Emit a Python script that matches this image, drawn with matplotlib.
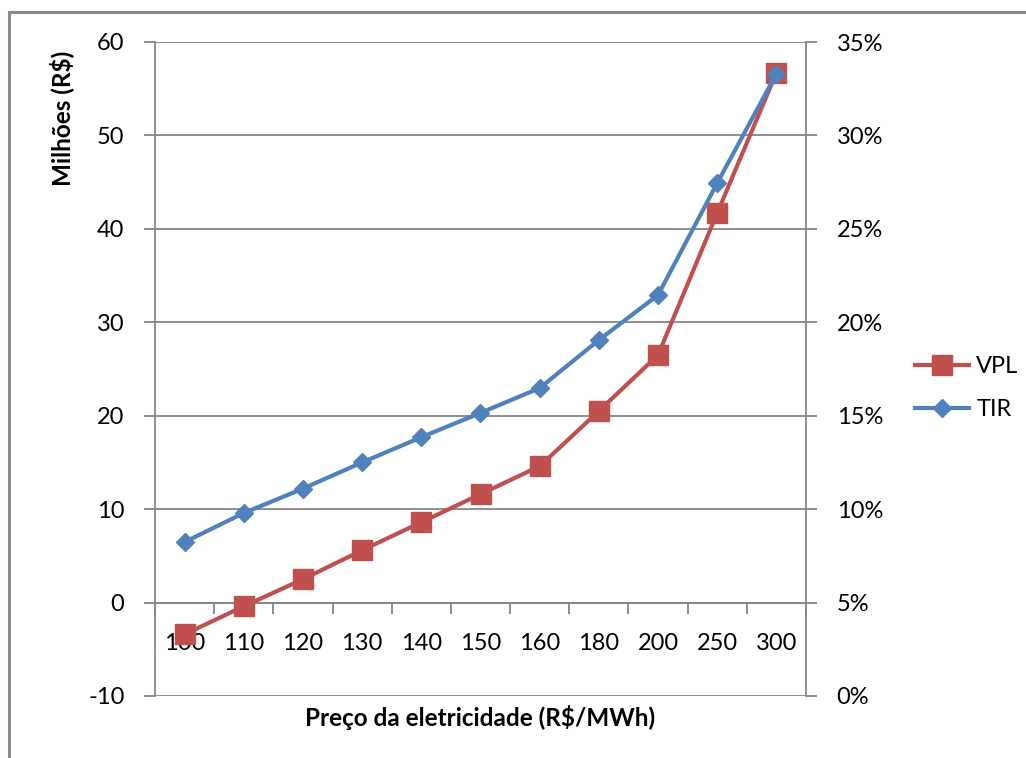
import matplotlib
matplotlib.use("Agg")
import matplotlib.pyplot as plt
import numpy as np
from matplotlib.patches import Rectangle
from matplotlib.ticker import FuncFormatter, FixedLocator

plt.rcParams['font.family'] = ['Lato', 'DejaVu Sans']
plt.rcParams['axes.unicode_minus'] = False

# preço da eletricidade (R$/MWh)
precos = ['100', '110', '120', '130', '140', '150', '160', '180', '200', '250', '300']
# VPL em milhões de R$
vpl = [-3.4, -0.4, 2.5, 5.6, 8.6, 11.6, 14.6, 20.5, 26.5, 41.7, 56.7]
# TIR (fração)
tir = [0.0824, 0.0979, 0.1110, 0.1250, 0.1385, 0.1515, 0.1648, 0.1905, 0.2146, 0.2745, 0.3330]

red = '#C0504D'
blue = '#4F81BD'
grid_c = '#868686'
fs = 17

fig = plt.figure(figsize=(10.26, 7.58), dpi=100)
ax = fig.add_axes([155 / 1026, 62 / 758, 651 / 1026, 654 / 758])
ax2 = ax.twinx()

x = np.arange(len(precos))

ax.plot(x, vpl, color=red, lw=3, marker='s', ms=14, mec=red, mfc=red, label='VPL', zorder=3)
ax2.plot(x, tir, color=blue, lw=3, marker='D', ms=9.5, mec=blue, mfc=blue, label='TIR', zorder=3)

# eixo esquerdo
ax.set_xlim(-0.5, len(precos) - 0.5)
ax.set_ylim(-10, 60)
ax.set_yticks(np.arange(-10, 61, 10))
ax.yaxis.grid(True, color=grid_c, lw=1.3)
ax.set_axisbelow(True)

# eixo direito em porcentagem
ax2.set_ylim(0, 0.35)
ax2.set_yticks(np.arange(0, 0.351, 0.05))
ax2.yaxis.set_major_formatter(FuncFormatter(lambda v, p: '%d%%' % round(v * 100)))

for a in (ax, ax2):
    for s in a.spines.values():
        s.set_visible(False)
    a.tick_params(axis='y', colors=grid_c, length=8, width=1.3, labelsize=fs, labelcolor='black')

ax.spines['left'].set_visible(True)
ax.spines['left'].set_color(grid_c)
ax.spines['left'].set_linewidth(1.3)
ax2.spines['right'].set_visible(True)
ax2.spines['right'].set_color(grid_c)
ax2.spines['right'].set_linewidth(1.3)
ax.tick_params(axis='y', pad=14)
ax2.tick_params(axis='y', pad=14)

# eixo das categorias cruzando em zero
ax.spines['bottom'].set_visible(True)
ax.spines['bottom'].set_position(('data', 0))
ax.spines['bottom'].set_color(grid_c)
ax.spines['bottom'].set_linewidth(1.3)
ax.xaxis.set_major_locator(FixedLocator(np.arange(-0.5, len(precos), 1.0)))
ax.xaxis.set_minor_locator(FixedLocator(x))
ax.set_xticklabels([], minor=False)
ax.set_xticklabels(precos, minor=True)
ax.tick_params(axis='x', which='major', direction='out', length=8, width=1.3, colors=grid_c)
ax.tick_params(axis='x', which='minor', length=0, pad=22, labelsize=fs, labelcolor='black')

fig.text(62 / 1026, 1 - 118 / 758, 'Milhões (R$)', rotation=90, ha='center', va='center',
         fontsize=17.5, fontweight='bold')
fig.text(480 / 1026, 1 - 717 / 758, 'Preço da eletricidade (R$/MWh)', ha='center', va='center',
         fontsize=17.5, fontweight='bold')

h1, l1 = ax.get_legend_handles_labels()
h2, l2 = ax2.get_legend_handles_labels()
fig.legend(h1 + h2, l1 + l2, loc='center left', bbox_to_anchor=(915 / 1026, 1 - 388 / 758),
           frameon=False, fontsize=fs, handlelength=2.3, handletextpad=0.3, labelspacing=0.95,
           borderpad=0, borderaxespad=0)

# borda da área do gráfico
fig.add_artist(Rectangle((9 / 1026, -0.2), 1.5, 1.2 - 12 / 758, transform=fig.transFigure,
                         fill=False, ec='#898989', lw=2.2))

fig.savefig('out.png', dpi=100)
